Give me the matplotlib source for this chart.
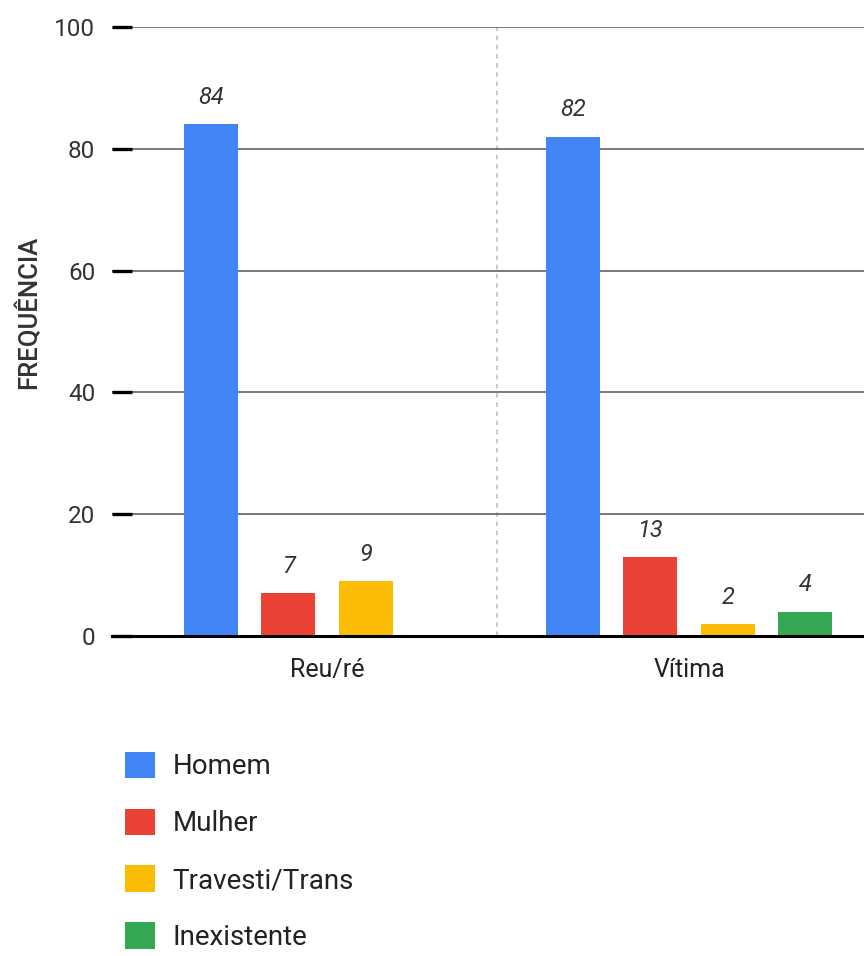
import matplotlib.pyplot as plt
from matplotlib.patches import Patch
import numpy as np

plt.rcParams['font.family'] = ['Roboto', 'DejaVu Sans']

categories = ['Reu/ré', 'Vítima']
series_names = ['Homem', 'Mulher', 'Travesti/Trans', 'Inexistente']
homem = [84, 82]
mulher = [7, 13]
travesti = [9, 2]
inexistente = [np.nan, 4]
colors = ['#4285F4', '#EA4335', '#FBBC04', '#34A853']
yticks = [0, 20, 40, 60, 80, 100]

values = [homem, mulher, travesti, inexistente]

fig = plt.figure(figsize=(8.64, 9.56), dpi=100)
ax = fig.add_axes([112 / 864, 320 / 956, 752 / 864, 609 / 956])

slot = 0.214
width = 0.149
centers = np.arange(len(categories))
for k, (name, vals, col) in enumerate(zip(series_names, values, colors)):
    xs = centers + (k - 1.5) * slot
    ax.bar(xs, vals, width=width, color=col, label=name, zorder=3)
    for x, v in zip(xs, vals):
        if np.isnan(v):
            continue
        ax.annotate(f'{v:g}', (x, v), xytext=(0, 11), textcoords='offset points',
                    ha='center', va='bottom', fontsize=17, style='italic',
                    color='#333333')

ax.set_xlim(-0.594, 1.483)
ax.set_ylim(0, 100)
ax.set_yticks(yticks)
ax.set_xticks(centers)
ax.set_xticklabels(categories, fontsize=18, color='#222222')
ax.tick_params(axis='x', length=0, pad=16)
ax.tick_params(axis='y', direction='in', length=14.5, width=2.4, color='black',
               labelsize=17.5, labelcolor='#333333', pad=12)
ax.yaxis.grid(True, color='#555555', linewidth=1.1, zorder=0)
for s in ['top', 'right', 'left']:
    ax.spines[s].set_visible(False)
ax.spines['bottom'].set_color('black')
ax.spines['bottom'].set_linewidth(2.2)
ax.spines['bottom'].set_zorder(4)

ax.axvline(0.47, color='#bbbbbb', linestyle=(0, (3, 3)), linewidth=1.1, zorder=1)

fig.text(28 / 864, 1 - 312 / 956, 'FREQUÊNCIA', rotation=90, ha='center', va='center',
         fontsize=18.5, fontweight='medium', color='#333333')

handles = [Patch(facecolor=c, edgecolor='none') for c in colors]
fig.legend(handles, series_names, loc='upper left', bbox_to_anchor=(119 / 864, 1 - 746 / 956),
           frameon=False, fontsize=20, handlelength=1.08, handleheight=1.08,
           handletextpad=0.65, labelspacing=1.02, borderaxespad=0, borderpad=0.2,
           labelcolor='#222222')

fig.savefig('out.png', dpi=100)
